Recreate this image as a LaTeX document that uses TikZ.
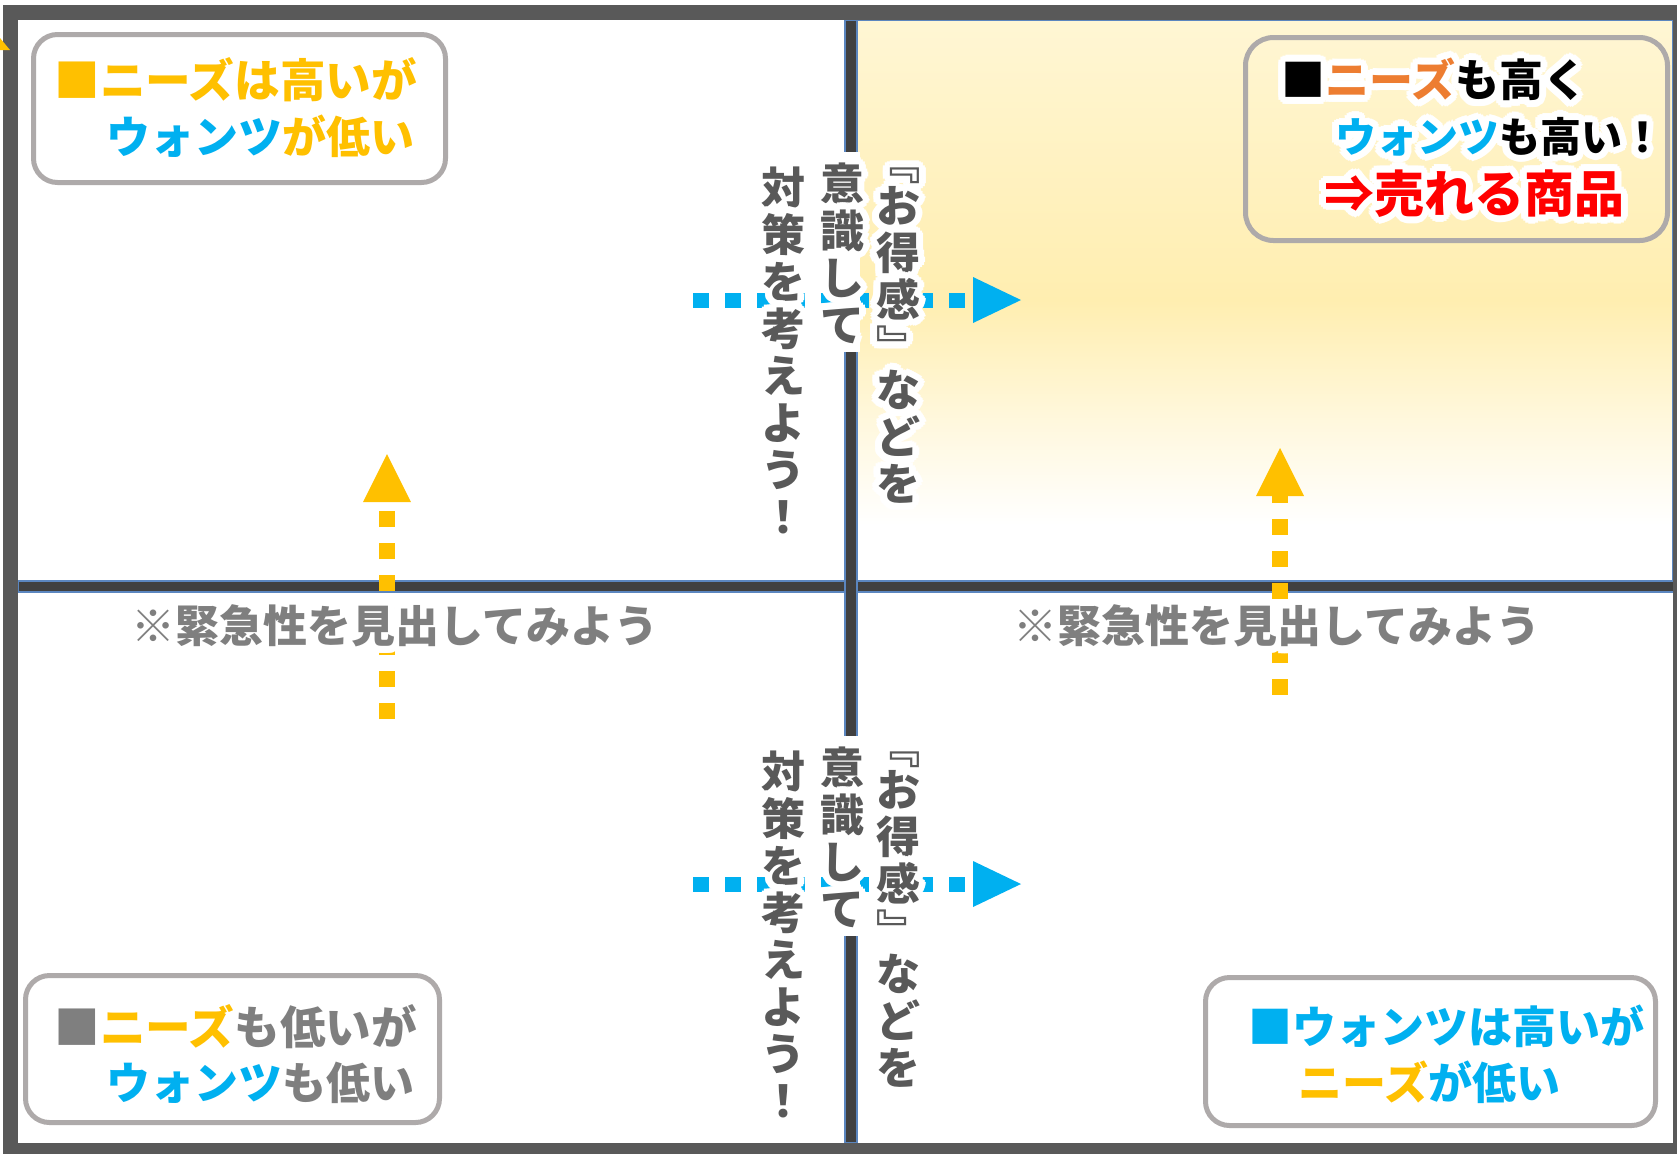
\documentclass[tikz,border=0pt]{standalone}
\usepackage{fontspec}
\newfontfamily\jp{Noto Sans CJK JP}
\usetikzlibrary{arrows.meta}
\definecolor{gold}{HTML}{FFC000}
\definecolor{sky}{HTML}{00B0F0}
\definecolor{orng}{HTML}{ED7D31}
\definecolor{redc}{HTML}{FF0000}
\definecolor{gtxt}{HTML}{7F7F7F}
\definecolor{vgray}{HTML}{595959}
\definecolor{framec}{HTML}{595959}
\definecolor{divc}{HTML}{404040}
\definecolor{edgec}{HTML}{5B86BF}
\definecolor{boxgray}{HTML}{AEAAAA}
\definecolor{qtop}{HTML}{FFF6D4}
\definecolor{qmid}{HTML}{FFEEB0}
\definecolor{qlow}{HTML}{FFF8DE}
\pgfdeclareverticalshading{quadshade}{100bp}{color(0bp)=(white); color(25bp)=(white); color(30bp)=(white); color(39bp)=(qlow); color(50bp)=(qmid); color(75bp)=(qtop); color(100bp)=(qtop)}
\newcommand\hlcopy[3]{\rlap{\kern#1\smash{\raisebox{#2}{#3}}}}
\newcommand\hl[2]{\leavevmode{\color{white}%
\hlcopy{3.5pt}{0pt}{#2}\hlcopy{3.23pt}{1.34pt}{#2}\hlcopy{2.47pt}{2.47pt}{#2}\hlcopy{1.34pt}{3.23pt}{#2}%
\hlcopy{0pt}{3.5pt}{#2}\hlcopy{-1.34pt}{3.23pt}{#2}\hlcopy{-2.47pt}{2.47pt}{#2}\hlcopy{-3.23pt}{1.34pt}{#2}%
\hlcopy{-3.5pt}{0pt}{#2}\hlcopy{-3.23pt}{-1.34pt}{#2}\hlcopy{-2.47pt}{-2.47pt}{#2}\hlcopy{-1.34pt}{-3.23pt}{#2}%
\hlcopy{0pt}{-3.5pt}{#2}\hlcopy{1.34pt}{-3.23pt}{#2}\hlcopy{2.47pt}{-2.47pt}{#2}\hlcopy{3.23pt}{-1.34pt}{#2}%
\hlcopy{1.75pt}{0pt}{#2}\hlcopy{1.24pt}{1.24pt}{#2}\hlcopy{0pt}{1.75pt}{#2}\hlcopy{-1.24pt}{1.24pt}{#2}%
\hlcopy{-1.75pt}{0pt}{#2}\hlcopy{-1.24pt}{-1.24pt}{#2}\hlcopy{0pt}{-1.75pt}{#2}\hlcopy{1.24pt}{-1.24pt}{#2}}%
{\color{#1}#2}}
\newcommand\vc[1]{\hl{vgray}{#1}}
\tikzset{
  qbox/.style={draw=boxgray, line width=2.5pt, rounded corners=12pt, fill=white, inner sep=0pt},
  btxt/.style={anchor=west, inner sep=0pt, font=\jp\bfseries\fontsize{22}{22}\selectfont, text height=19.4pt, text depth=2.6pt},
  widetxt/.style={anchor=west, inner sep=0pt, font=\jp\bfseries\fontsize{22.8}{22.8}\selectfont, text height=20pt, text depth=2.7pt},
  smalltxt/.style={anchor=west, inner sep=0pt, font=\jp\bfseries\fontsize{20.5}{20.5}\selectfont, text height=18pt, text depth=2.5pt},
  bigtxt/.style={anchor=west, inner sep=0pt, font=\jp\bfseries\fontsize{25}{25}\selectfont, text height=22pt, text depth=3pt},
  vcol/.style={inner sep=0pt, align=center, font=\jp\bfseries\fontsize{22}{23.5}\selectfont},
  notetxt/.style={inner sep=0pt, font=\jp\bfseries\fontsize{22}{22}\selectfont, text height=19.4pt, text depth=2.6pt},
  divbar/.style={fill=divc, draw=edgec, line width=0.7pt},
  frameline/.style={draw=framec, line width=7.5pt},
  ydash/.style={draw=gold, line width=8pt, dash pattern=on 8pt off 8pt, -{Triangle[length=24pt,width=24pt,line width=0pt]}},
  bdash/.style={draw=sky, line width=7.5pt, dash pattern=on 8pt off 8pt, -{Triangle[length=24pt,width=23pt,line width=0pt]}}
}
\begin{document}
\begin{tikzpicture}[x=0.5pt,y=-0.5pt]
\useasboundingbox (0,0) rectangle (1677,1153);
\fill[white] (0,0) rectangle (1677,1153);
% top-right quadrant
\shade[shading=quadshade] (857,20) rectangle (1673,581);
\draw[edgec, line width=0.7pt] (857,20) rectangle (1673,581);
% dividers
\filldraw[divbar] (18,581) rectangle (1677,592);
\filldraw[divbar] (845,20) rectangle (857,1143);
% frame
\draw[frameline] (10.5,12.5) rectangle (1680.5,1150.5);
\fill[gold] (0,38) -- (10,50) -- (0,50) -- cycle;
% boxes
\node[qbox, minimum width=206pt, minimum height=74pt] (tlbox) at (239.5,108.5) {};
\node[qbox, fill=none, rounded corners=14pt, minimum width=211pt, minimum height=101.5pt] (trbox) at (1456.5,139) {};
\node[qbox, minimum width=207pt, minimum height=73.5pt] (blbox) at (232.5,1049) {};
\node[qbox, minimum width=225pt, minimum height=74pt] (brbox) at (1430.5,1051.5) {};
% arrows
\coordinate (ya1s) at (387,719); \coordinate (ya1t) at (387,454);
\coordinate (ya2s) at (1280,695); \coordinate (ya2t) at (1280,448);
\coordinate (ba1s) at (693,300); \coordinate (ba1t) at (1021,300);
\coordinate (ba2s) at (693,884); \coordinate (ba2t) at (1021,884);
\draw[ydash] (ya1s) -- (ya1t);
\draw[ydash] (ya2s) -- (ya2t);
\draw[bdash] (ba1s) -- (ba1t);
\draw[bdash] (ba2s) -- (ba2t);
% glow hiding the divider behind the middle column
\fill[white] (842,152) rectangle (860,352);
\fill[white] (842,736) rectangle (860,936);
% notes
\node[notetxt] (note1) at (395,626) {\hl{gtxt}{※緊急性を見出してみよう}};
\node[notetxt] (note2) at (1277,626) {\hl{gtxt}{※緊急性を見出してみよう}};
% vertical texts upper
\node[vcol] (u1) at (783,350) {\vc{対}\\\vc{策}\\\vc{を}\\\vc{考}\\\vc{え}\\\vc{よ}\\\vc{う}\\\vc{！}};
\node[vcol] (u2) at (842,253) {\vc{意}\\\vc{識}\\\vc{し}\\\vc{て}};
\node[vcol] (u3) at (898,336) {\vc{﹃}\\[-2pt]\vc{お}\\\vc{得}\\\vc{感}\\\vc{﹄}\\[-2pt]\vc{な}\\\vc{ど}\\\vc{を}};
% vertical texts lower
\node[vcol] (l1) at (783,934) {\vc{対}\\\vc{策}\\\vc{を}\\\vc{考}\\\vc{え}\\\vc{よ}\\\vc{う}\\\vc{！}};
\node[vcol] (l2) at (842,837) {\vc{意}\\\vc{識}\\\vc{し}\\\vc{て}};
\node[vcol] (l3) at (898,920) {\vc{﹃}\\[-2pt]\vc{お}\\\vc{得}\\\vc{感}\\\vc{﹄}\\[-2pt]\vc{な}\\\vc{ど}\\\vc{を}};
% box texts
\node[widetxt] (tl1) at (54,80) {\textcolor{gold}{■ニーズは高いが}};
\node[btxt] (tl2) at (106,137) {\textcolor{sky}{ウォンツ}\textcolor{gold}{が低い}};
\node[btxt] (tr1) at (1281,80) {\hl{black}{■}\hl{orng}{ニーズ}\hl{black}{も高く}};
\node[smalltxt] (tr2) at (1335,137) {\hl{sky}{ウォンツ}\hl{black}{も高い！}};
\node[bigtxt] (tr3) at (1324,193) {\hl{redc}{⇒売れる商品}};
\node[widetxt] (bl1) at (54,1027) {\textcolor{gtxt}{■}\textcolor{gold}{ニーズ}\textcolor{gtxt}{も低いが}};
\node[btxt] (bl2) at (106,1083) {\textcolor{sky}{ウォンツ}\textcolor{gtxt}{も低い}};
\node[btxt] (br1) at (1248,1027) {\textcolor{sky}{■ウォンツは高いが}};
\node[btxt] (br2) at (1298,1083) {\textcolor{gold}{ニーズ}\textcolor{sky}{が低い}};
\end{tikzpicture}
\end{document}
